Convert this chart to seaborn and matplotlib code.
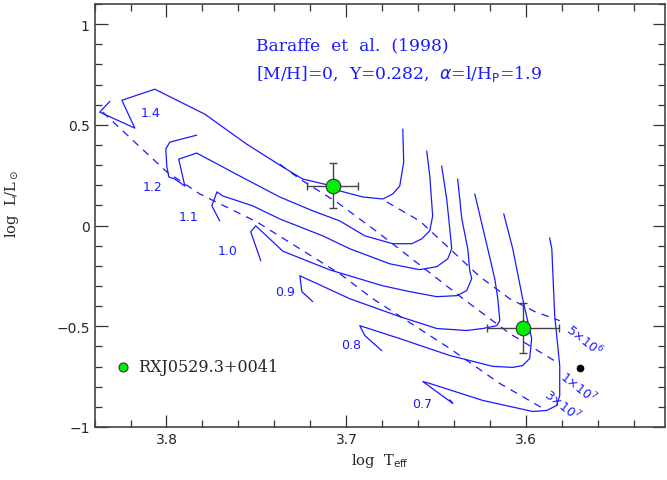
import numpy as np
import pandas as pd
import matplotlib
matplotlib.use("Agg")
import matplotlib.pyplot as plt
import seaborn as sns
from matplotlib.ticker import MultipleLocator

# ---------------- data (log Teff, log L/Lsun) ----------------
t14_T = [3.6687, 3.6682, 3.6704, 3.6743, 3.6798, 3.6909, 3.7037, 3.7076, 3.7243, 3.7354, 3.7554, 3.7787, 3.8065, 3.8248, 3.8176, 3.8371, 3.8315]
t14_L = [0.479, 0.315, 0.196, 0.157, 0.132, 0.142, 0.172, 0.196, 0.231, 0.291, 0.404, 0.553, 0.677, 0.622, 0.484, 0.563, 0.617]

t12_T = [3.6554, 3.6537, 3.6521, 3.6537, 3.6582, 3.6637, 3.6743, 3.6898, 3.7037, 3.7187, 3.7371, 3.7593, 3.7832, 3.7932, 3.7898, 3.7954, 3.7987, 3.7998, 3.8004, 3.7982, 3.7832]
t12_L = [0.370, 0.246, 0.048, -0.026, -0.066, -0.090, -0.090, -0.051, 0.023, 0.073, 0.142, 0.246, 0.360, 0.330, 0.196, 0.231, 0.241, 0.291, 0.380, 0.414, 0.449]

t11_T = [3.6471, 3.6443, 3.6426, 3.6415, 3.6437, 3.6498, 3.6593, 3.6759, 3.6982, 3.7132, 3.7371, 3.7521, 3.7687, 3.7720, 3.7748, 3.7704]
t11_L = [0.296, 0.132, -0.016, -0.115, -0.165, -0.204, -0.219, -0.190, -0.115, -0.051, 0.033, 0.098, 0.147, 0.167, 0.098, 0.023]

t10_T = [3.6382, 3.6359, 3.6326, 3.6315, 3.6304, 3.6332, 3.6387, 3.6498, 3.6648, 3.6798, 3.7093, 3.7354, 3.7504, 3.7532, 3.7476]
t10_L = [0.231, 0.033, -0.115, -0.224, -0.264, -0.323, -0.348, -0.353, -0.328, -0.299, -0.220, -0.127, -0.001, -0.031, -0.175]

t09_T = [3.6287, 3.6215, 3.6176, 3.6159, 3.6148, 3.6165, 3.6243, 3.6332, 3.6498, 3.6704, 3.6982, 3.7259, 3.7248, 3.7187]
t09_L = [0.157, -0.115, -0.264, -0.363, -0.472, -0.497, -0.511, -0.521, -0.511, -0.452, -0.363, -0.249, -0.328, -0.378]

t08_T = [3.6126, 3.6076, 3.6021, 3.5971, 3.5982, 3.6021, 3.6076, 3.6187, 3.6426, 3.6704, 3.6926, 3.6898, 3.6804]
t08_L = [0.058, -0.115, -0.363, -0.561, -0.660, -0.695, -0.704, -0.699, -0.645, -0.561, -0.497, -0.546, -0.621]

t07_T = [3.5871, 3.5859, 3.5843, 3.5815, 3.5815, 3.5832, 3.5887, 3.5965, 3.6243, 3.6537, 3.6576, 3.6409, 3.6426]
t07_L = [-0.061, -0.115, -0.447, -0.695, -0.844, -0.893, -0.918, -0.923, -0.868, -0.784, -0.774, -0.883, -0.865]

iso30_T = [3.8354, 3.8176, 3.7998, 3.7815, 3.7498, 3.7037, 3.6854, 3.6426, 3.6148, 3.5907]
iso30_L = [0.563, 0.414, 0.266, 0.157, 0.018, -0.239, -0.363, -0.610, -0.784, -0.908]
iso10_T = [3.7371, 3.7259, 3.7054, 3.6815, 3.6352, 3.6093, 3.5815]
iso10_L = [0.305, 0.231, 0.117, -0.041, -0.363, -0.536, -0.687]
iso05_T = [3.6776, 3.6593, 3.6426, 3.6259, 3.6093, 3.5954, 3.5815]
iso05_L = [0.117, 0.023, -0.115, -0.254, -0.363, -0.427, -0.472]

track_names = ["1.4", "1.2", "1.1", "1.0", "0.9", "0.8", "0.7"]
track_T = [t14_T, t12_T, t11_T, t10_T, t09_T, t08_T, t07_T]
track_L = [t14_L, t12_L, t11_L, t10_L, t09_L, t08_L, t07_L]
label_T = [3.8090, 3.8080, 3.7880, 3.7660, 3.7340, 3.6975, 3.6580]
label_L = [0.563, 0.196, 0.043, -0.125, -0.328, -0.591, -0.884]

iso_names = [r"5$\times$10$^6$", r"1$\times$10$^7$", r"3$\times$10$^7$"]
iso_T = [iso05_T, iso10_T, iso30_T]
iso_L = [iso05_L, iso10_L, iso30_L]
iso_lab_T = [3.5680, 3.5710, 3.5800]
iso_lab_L = [-0.565, -0.800, -0.888]

star_T = [3.7076, 3.6019]
star_L = [0.198, -0.510]
star_Terr = [0.0142, 0.0202]
star_Lerr = [0.111, 0.125]
black_T = [3.5704]
black_L = [-0.709]
legend_T = [3.8243]
legend_L = [-0.700]

# ---------------- figure ----------------
sns.set_theme(style="ticks")
plt.rcParams["font.family"] = ["DejaVu Sans"]
fig = plt.figure(figsize=(6.67, 4.81), dpi=100)
ax = fig.add_axes([0.1417, 0.1102, 0.8553, 0.8794])

blue = "#1a1aff"
for name, T, L in zip(track_names, track_T, track_L):
    df = pd.DataFrame({"T": T, "L": L})
    sns.lineplot(data=df, x="T", y="L", sort=False, estimator=None, color=blue, lw=0.9, ax=ax)
for name, T, L in zip(iso_names, iso_T, iso_L):
    df = pd.DataFrame({"T": T, "L": L})
    sns.lineplot(data=df, x="T", y="L", sort=False, estimator=None, color=blue, lw=0.9,
                 ax=ax, linestyle=(0, (6, 5)))

for name, x, y in zip(track_names, label_T, label_L):
    ax.text(x, y, name, color=blue, fontsize=9, ha="center", va="center")
for name, x, y in zip(iso_names, iso_lab_T, iso_lab_L):
    ax.text(x, y, name, color=blue, fontsize=9, ha="center", va="center", rotation=-38)

ax.errorbar(star_T, star_L, xerr=star_Terr, yerr=star_Lerr, fmt="none", ecolor="#444444",
            elinewidth=1.0, capsize=3, capthick=1.0, zorder=4)
sns.scatterplot(x=star_T, y=star_L, s=110, color="#00ee00", edgecolor="#333333", linewidth=0.8, ax=ax, zorder=5)
sns.scatterplot(x=black_T, y=black_L, s=26, color="black", edgecolor="black", ax=ax, zorder=5)
sns.scatterplot(x=legend_T, y=legend_L, s=42, color="#00ee00", edgecolor="#333333", linewidth=0.8, ax=ax, zorder=5)
ax.text(3.8160, -0.700, "RXJ0529.3+0041", fontsize=11.5, family="DejaVu Serif", va="center", ha="left")

ax.text(3.7505, 0.895, "Baraffe  et  al.  (1998)", color=blue, fontsize=12.3, family="DejaVu Serif", ha="left", va="center")
ax.text(3.7505, 0.757, r"[M/H]=0,  Y=0.282,  $\alpha$=l/H$_{\rm P}$=1.9", color=blue, fontsize=12.3,
        family="DejaVu Serif", ha="left", va="center")

ax.set_xlim(3.840, 3.523)
ax.set_ylim(-1.0, 1.1)
ax.xaxis.set_major_locator(MultipleLocator(0.1))
ax.xaxis.set_minor_locator(MultipleLocator(0.02))
ax.yaxis.set_major_locator(MultipleLocator(0.5))
ax.yaxis.set_minor_locator(MultipleLocator(0.1))
ax.tick_params(which="both", direction="in", top=True, right=True, labelsize=10, color="#333333")
ax.tick_params(which="major", length=9, width=0.9)
ax.tick_params(which="minor", length=5, width=0.9)
ax.set_yticks([-1, -0.5, 0, 0.5, 1])
ax.set_yticklabels(["\u22121", "\u22120.5", "0", "0.5", "1"])
for s in ax.spines.values():
    s.set_color("#444444")
    s.set_linewidth(1.2)
ax.set_xlabel(r"log  T$_{\rm eff}$", fontsize=10.5, family="DejaVu Serif")
ax.set_ylabel(r"log  L/L$_\odot$", fontsize=10.5, family="DejaVu Serif")
ax.yaxis.set_label_coords(-0.128, 0.53)
fig.savefig("out.png", dpi=100)
